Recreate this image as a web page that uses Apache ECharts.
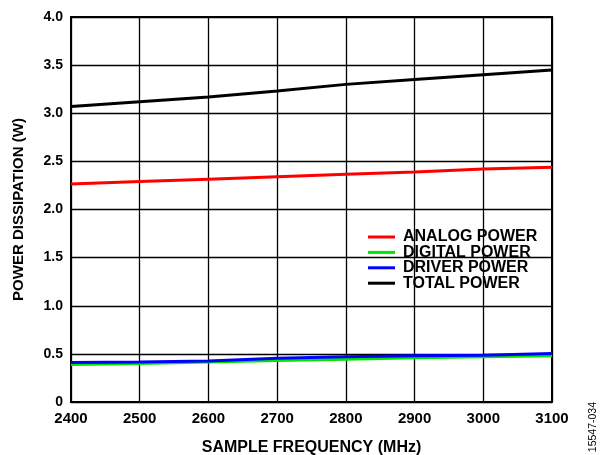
<!DOCTYPE html>
<html>
<head>
<meta charset="utf-8">
<script src="https://cdn.jsdelivr.net/npm/echarts@6/dist/echarts.min.js"></script>
<style>
    html, body { margin: 0; padding: 0; background: #fff; }
    #main { width: 602px; height: 455px; }
</style>
</head>
<body>
<div id="main"></div>
<script>
// sample frequency (MHz)
var freqs = [2400, 2500, 2600, 2700, 2800, 2900, 3000, 3100];
// power (W)
var analogPower = [2.265, 2.29, 2.315, 2.34, 2.365, 2.39, 2.42, 2.44];
var digitalPower = [0.39, 0.40, 0.415, 0.43, 0.445, 0.46, 0.47, 0.48];
var driverPower = [0.41, 0.415, 0.425, 0.455, 0.47, 0.48, 0.485, 0.505];
var totalPower = [3.07, 3.12, 3.17, 3.23, 3.30, 3.35, 3.40, 3.45];

var seriesNames = ['ANALOG POWER', 'DIGITAL POWER', 'DRIVER POWER', 'TOTAL POWER'];
var seriesColors = ['#ff0000', '#00e600', '#0000ff', '#000000'];
var seriesData = [analogPower, digitalPower, driverPower, totalPower];

function pairs(vals) {
    var out = [];
    for (var i = 0; i < freqs.length; i++) {
        out.push([freqs[i], vals[i]]);
    }
    return out;
}

var font = 'Liberation Sans, Arial, sans-serif';

var series = [];
var legends = [];
for (var i = 0; i < seriesNames.length; i++) {
    series.push({
        name: seriesNames[i],
        type: 'line',
        symbol: 'none',
        smooth: false,
        data: pairs(seriesData[i]),
        lineStyle: { color: seriesColors[i], width: 3 },
        itemStyle: { color: seriesColors[i] },
        z: i == 2 ? 4 : 3
    });
    // one legend per row so the rows sit tight like the original
    legends.push({
        left: 363,
        top: 224 + i * 15.4,
        itemWidth: 27,
        itemHeight: 3,
        icon: 'rect',
        data: [seriesNames[i]],
        textStyle: {
            fontFamily: font, fontWeight: 'bold', fontSize: 16, color: '#000',
            lineHeight: 16, padding: [0, 0, 0, 3]
        }
    });
}

var chart = echarts.init(document.getElementById('main'));
var option = {
    animation: false,
    backgroundColor: '#fff',
    grid: {
        left: 71, right: 50, top: 17, bottom: 53,
        outerBoundsMode: 'none', containLabel: false,
        show: true, borderColor: '#000', borderWidth: 2
    },
    legend: legends,
    xAxis: {
        type: 'value',
        min: 2400,
        max: 3100,
        interval: 100,
        name: 'SAMPLE FREQUENCY (MHz)',
        nameLocation: 'middle',
        nameGap: 38,
        nameTextStyle: { fontFamily: font, fontWeight: 'bold', fontSize: 16, color: '#000' },
        axisLine: { show: false },
        axisTick: { show: false },
        axisLabel: {
            fontFamily: font, fontWeight: 'bold', fontSize: 15, color: '#000', margin: 9,
            formatter: function (v) { return String(v); }
        },
        splitLine: { show: true, lineStyle: { color: '#000', width: 1.3 } }
    },
    yAxis: {
        type: 'value',
        min: 0,
        max: 4,
        interval: 0.5,
        name: 'POWER DISSIPATION (W)',
        nameLocation: 'middle',
        nameGap: 45,
        nameTextStyle: { fontFamily: font, fontWeight: 'bold', fontSize: 15, color: '#000' },
        axisLine: { show: false },
        axisTick: { show: false },
        axisLabel: {
            fontFamily: font, fontWeight: 'bold', fontSize: 14, color: '#000', margin: 8,
            formatter: function (v) { return v == 0 ? '0' : v.toFixed(1); }
        },
        splitLine: { show: true, lineStyle: { color: '#000', width: 1.3 } }
    },
    graphic: [{
        type: 'text',
        left: 588,
        top: 402,
        rotation: Math.PI / 2,
        style: { text: '15547-034', fontFamily: font, fontSize: 10.5, fill: '#000' }
    }],
    series: series
};
chart.setOption(option);
</script>
</body>
</html>
